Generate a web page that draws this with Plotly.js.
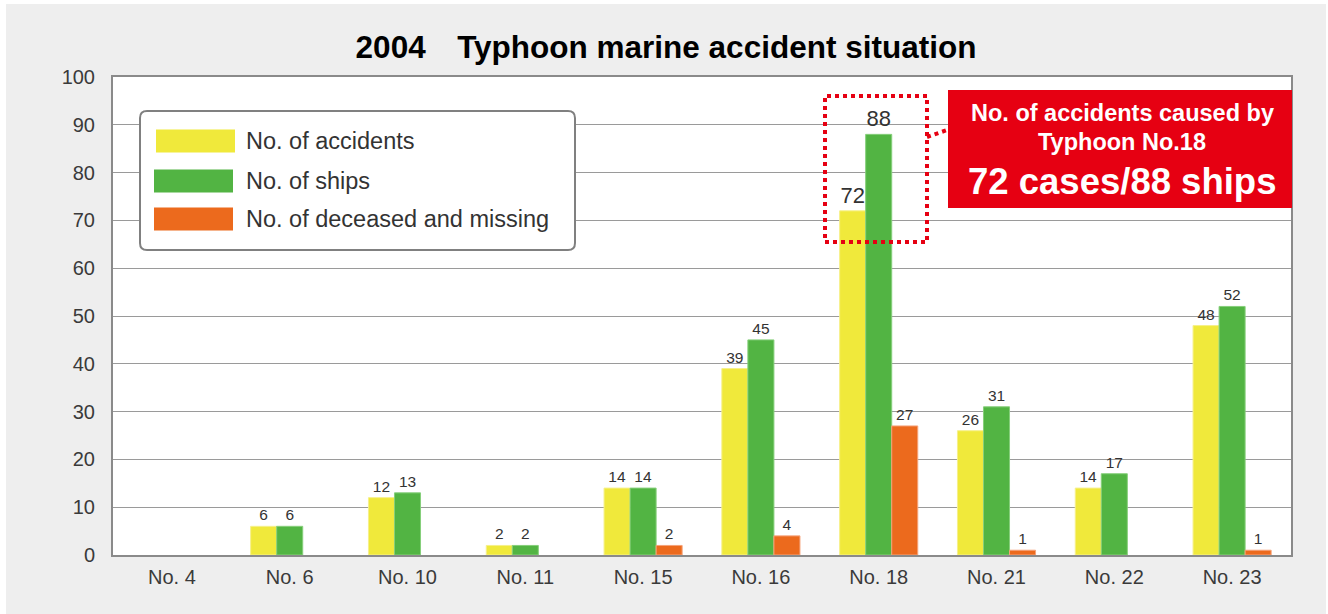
<!DOCTYPE html>
<html>
<head>
<meta charset="utf-8">
<script src="https://cdn.plot.ly/plotly-3.0.1.min.js"></script>
<style>
html,body{margin:0;padding:0;background:#ffffff;}
#chart{position:absolute;left:6px;top:4px;width:1320px;height:610px;}
</style>
</head>
<body>
<div id="chart"></div>
<script>
// ---- data ----
const typhoons = ["No. 4","No. 6","No. 10","No. 11","No. 15","No. 16","No. 18","No. 21","No. 22","No. 23"];
const accidents = [0, 6, 12, 2, 14, 39, 72, 26, 14, 48];
const ships     = [0, 6, 13, 2, 14, 45, 88, 31, 17, 52];
const deceased  = [0, 0, 0, 0, 2, 4, 27, 1, 0, 1];
const seriesNames = ["No. of accidents", "No. of ships", "No. of deceased and missing"];
const yTicks = [0,10,20,30,40,50,60,70,80,90,100];
const chartTitle = "2004\u2003Typhoon marine accident situation";
const calloutLines = ["No. of accidents caused by", "Typhoon No.18", "72 cases/88 ships"];
const highlight = "No. 18";

const colors = ["#f0e93b", "#52b443", "#ec6a1d"];
const edge = ["#f6f08a", "#86cf7a", "#f5a37a"];
const FONT = "Liberation Sans, Arial, sans-serif";

// pixel -> paper helpers (div coordinates)
const W = 1320, H = 610;
const M = {l:107, r:35, t:73, b:59};
const PW = W - M.l - M.r, PH = H - M.t - M.b;
const ox = 6, oy = 4;
const px = x => (x - ox - M.l) / PW;
const py = y => (H - M.b - (y - oy)) / PH;

function mk(vals, i) {
  return {
    type: "bar",
    name: seriesNames[i],
    x: typhoons,
    y: vals,
    marker: {color: colors[i], line: {color: edge[i], width: vals.map(v => v > 0 ? 1 : 0)}},
    text: vals.map(v => v > 0 ? String(v) : ""),
    textposition: "outside",
    constraintext: "none",
    cliponaxis: false,
    textfont: {
      family: FONT,
      color: "#333333",
      size: typhoons.map(t => (t === highlight && i < 2) ? 22 : 15.5)
    },
    hoverinfo: "x+y+name"
  };
}
const traces = [mk(accidents,0), mk(ships,1), mk(deceased,2)];

const shapes = [];
const annotations = [];

// rounded rectangle path in paper coords
function roundRect(x0, y0, x1, y1, r) {
  const P = (x, y) => px(x).toFixed(5) + "," + py(y).toFixed(5);
  return "M" + P(x0 + r, y0) +
    " L" + P(x1 - r, y0) + " Q" + P(x1, y0) + " " + P(x1, y0 + r) +
    " L" + P(x1, y1 - r) + " Q" + P(x1, y1) + " " + P(x1 - r, y1) +
    " L" + P(x0 + r, y1) + " Q" + P(x0, y1) + " " + P(x0, y1 - r) +
    " L" + P(x0, y0 + r) + " Q" + P(x0, y0) + " " + P(x0 + r, y0) + " Z";
}

// custom legend
shapes.push({type:"path", xref:"paper", yref:"paper",
  path: roundRect(140, 111, 575, 250, 7),
  line:{color:"#808080", width:2}, fillcolor:"#ffffff", layer:"above"});
const legY = [141, 181, 219];
const swX = [[156,235],[154,233],[154,233]];
seriesNames.forEach((n,i) => {
  shapes.push({type:"rect", xref:"paper", yref:"paper",
    x0:px(swX[i][0]), x1:px(swX[i][1]), y0:py(legY[i]+11.5), y1:py(legY[i]-11.5),
    line:{width:0}, fillcolor:colors[i], layer:"above"});
  annotations.push({xref:"paper", yref:"paper", x:px(244), y:py(legY[i]),
    xanchor:"left", yanchor:"middle", showarrow:false, text:n,
    font:{family:FONT, size:23.5, color:"#333333"}});
});

// highlight dotted box and callout
shapes.push({type:"rect", xref:"paper", yref:"paper",
  x0:px(825), x1:px(927), y0:py(242), y1:py(96),
  line:{color:"#e60012", width:4, dash:"dot"}, layer:"above"});
shapes.push({type:"line", xref:"paper", yref:"paper",
  x0:px(927), x1:px(950), y0:py(137), y1:py(129),
  line:{color:"#e60012", width:4, dash:"dot"}, layer:"above"});
shapes.push({type:"rect", xref:"paper", yref:"paper",
  x0:px(948), x1:px(1292), y0:py(208), y1:py(90),
  line:{width:0}, fillcolor:"#e60012", layer:"above"});
const cy = [113, 142, 181];
const cs = [23.5, 23.5, 36.5];
calloutLines.forEach((t,i) => {
  annotations.push({xref:"paper", yref:"paper", x:px(1122), y:py(cy[i]),
    xanchor:"center", yanchor:"middle", showarrow:false, text:"<b>"+t+"</b>",
    font:{family:FONT, size:cs[i], color:"#ffffff"}});
});

const layout = {
  width: W, height: H,
  paper_bgcolor: "#eeeeee",
  plot_bgcolor: "#ffffff",
  margin: M,
  showlegend: false,
  barmode: "group",
  bargap: 0.337,
  bargroupgap: 0,
  title: {text: "<b>"+chartTitle+"</b>", xref:"container", yref:"container",
    x: 0.5, xanchor:"center", y: 1 - 43/H, yanchor:"middle",
    font:{family:FONT, size:31.5, color:"#000000"}},
  xaxis: {
    type:"category", categoryorder:"array", categoryarray: typhoons,
    showline:true, linecolor:"#8a8a8a", linewidth:2, mirror:true,
    showgrid:false, ticks:"", ticklabelstandoff: 3,
    tickfont:{family:FONT, size:20, color:"#3a3a3a"}
  },
  yaxis: {
    range:[0,100], tickmode:"array", tickvals: yTicks, ticktext: yTicks.map(String),
    showline:true, linecolor:"#8a8a8a", linewidth:2, mirror:true,
    showgrid:true, gridcolor:"#9a9a9a", gridwidth:1, zeroline:false,
    ticks:"", ticklabelstandoff: 12,
    tickfont:{family:FONT, size:20, color:"#3a3a3a"}
  },
  shapes: shapes,
  annotations: annotations
};

Plotly.newPlot("chart", traces, layout, {displayModeBar:false, responsive:false});
</script>
</body>
</html>
